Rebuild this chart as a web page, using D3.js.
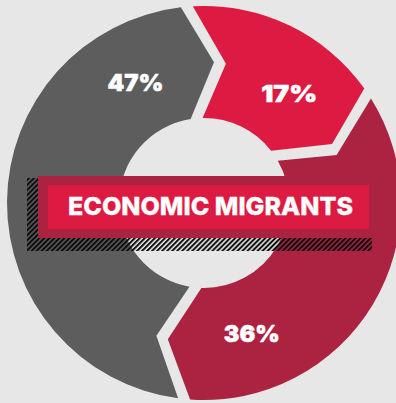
<!DOCTYPE html>
<html><head><meta charset="utf-8">
<script src="https://cdn.jsdelivr.net/npm/d3@7"></script>
<style>html,body{margin:0;padding:0;background:#e7e7e7;overflow:hidden}</style>
</head><body><svg id="chart" width="396" height="403"></svg>
<script>
// Shares drawn clockwise from the top
const shares = [17, 36, 47];
const shareLabels = ["17%", "36%", "47%"];
const bannerTitle = "ECONOMIC MIGRANTS";

const W = 396, H = 403, cx = 204, cy = 203, R = 197, r = 85, Rm = (R + r) / 2;
const gap = 6, tipTurn = 11.5 * Math.PI / 180;
const fills = ["#dc1a42", "#ab2341", "#5d5d5d"];
const labelFrac = [0.70, 0.80, 0.855], labelR = 139;
const deg = Math.PI / 180;
const font = "Inter, Roboto, 'DejaVu Sans', sans-serif";

const svg = d3.select("#chart");
svg.append("rect").attr("width", W).attr("height", H).attr("fill", "#e7e7e7");

const defs = svg.append("defs");
const pat = defs.append("pattern").attr("id", "hatch")
  .attr("patternUnits", "userSpaceOnUse").attr("width", 3.55).attr("height", 3.55)
  .attr("patternTransform", "rotate(45)");
pat.append("rect").attr("width", 2.0).attr("height", 3.55).attr("fill", "#0d0d0d");

const pie = d3.pie().sort(null).startAngle(-5 * deg).endAngle(355 * deg);
const arcs = pie(shares);

const pt = (rad, a) => [cx + rad * Math.sin(a), cy - rad * Math.cos(a)];

// Arrow-shaped ring segment: notch at its start, point at its end
function segPath(d) {
  const a0 = d.startAngle, a1 = d.endAngle;
  const oS = pt(R, a0 + Math.asin(gap / R)), oE = pt(R, a1 - Math.asin(gap / R));
  const iS = pt(r, a0 + Math.asin(gap / r)), iE = pt(r, a1 - Math.asin(gap / r));
  const tS = pt(Rm, a0 + tipTurn + gap / Rm), tE = pt(Rm, a1 + tipTurn - gap / Rm);
  const large = (a1 - a0) > Math.PI ? 1 : 0;
  return `M${oS}A${R},${R} 0 ${large} 1 ${oE}L${tE}L${iE}A${r},${r} 0 ${large} 0 ${iS}L${tS}Z`;
}

svg.append("g").selectAll("path").data(arcs).join("path")
  .attr("d", segPath)
  .attr("fill", (d, i) => fills[i]);

const fs = 23;
svg.append("g").selectAll("text").data(arcs).join("text")
  .each(function (d, i) {
    const a = d.startAngle + (d.endAngle - d.startAngle) * labelFrac[i];
    const p = pt(labelR, a);
    d3.select(this).attr("x", p[0]).attr("y", p[1] + 8.5);
  })
  .attr("text-anchor", "middle")
  .attr("font-family", font)
  .attr("font-weight", 900)
  .attr("font-size", fs)
  .attr("textLength", 56).attr("lengthAdjust", "spacingAndGlyphs")
  .attr("fill", "#fff")
  .attr("stroke", "#fff").attr("stroke-width", 0.5)
  .text((d, i) => shareLabels[i]);

// Banner with hatched shadow
const banner = svg.append("g");
banner.append("rect").attr("x", 27).attr("y", 178).attr("width", 345).attr("height", 73)
  .attr("fill", "url(#hatch)");
banner.append("rect").attr("x", 38).attr("y", 176).attr("width", 345).attr("height", 62)
  .attr("fill", "#ab2341");
banner.append("rect").attr("x", 48).attr("y", 185).attr("width", 321).attr("height", 44)
  .attr("fill", "#dc1a42");
banner.append("text").attr("x", 210.5).attr("y", 215)
  .attr("text-anchor", "middle")
  .attr("font-family", font)
  .attr("font-weight", 800)
  .attr("font-size", 25)
  .attr("textLength", 285).attr("lengthAdjust", "spacingAndGlyphs")
  .attr("fill", "#fff")
  .attr("stroke", "#fff").attr("stroke-width", 0.3)
  .text(bannerTitle);
</script></body></html>
